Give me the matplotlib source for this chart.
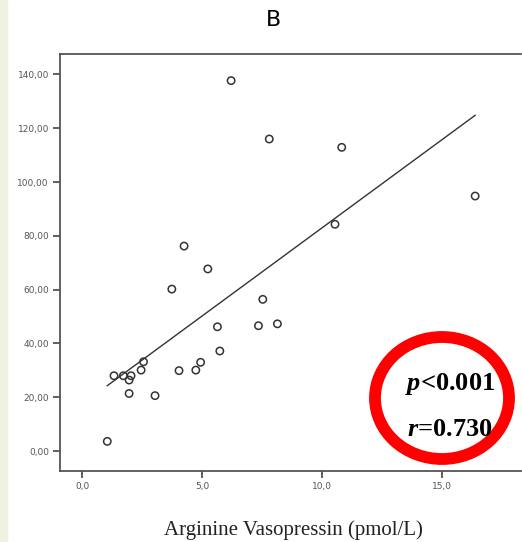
import numpy as np
import matplotlib.pyplot as plt
from matplotlib.patches import Ellipse, Rectangle

plt.rcParams['mathtext.fontset'] = 'custom'
plt.rcParams['mathtext.it'] = 'Liberation Serif:italic:bold'
plt.rcParams['mathtext.rm'] = 'Liberation Serif:bold'

# Data
avp = [6.21, 7.80, 10.82, 16.38, 10.54, 4.25, 5.24, 3.74, 7.53, 5.64,
       7.35, 8.14, 5.74, 4.94, 4.74, 4.04, 2.56, 2.46, 1.33, 1.72,
       2.04, 1.96, 1.96, 3.04, 1.05]
yvals = [137.7, 116.0, 112.9, 94.8, 84.3, 76.2, 67.7, 60.2, 56.4, 46.2,
         46.6, 47.3, 37.2, 33.0, 30.1, 29.9, 33.2, 30.1, 28.0, 28.0,
         28.0, 26.4, 21.4, 20.6, 3.6]
yticks = [0, 20, 40, 60, 80, 100, 120, 140]
xticks = [0, 5, 10, 15]
p_text = r'$\it{p}$<0.001'
r_text = r'$\it{r}$=0.730'

x = np.array(avp)
y = np.array(yvals)

fig = plt.figure(figsize=(5.22, 5.42), dpi=100)
# light green strip at the left edge
fig.patches.append(Rectangle((0, 0), 7 / 522, 1, transform=fig.transFigure,
                             color='#eef2e0', zorder=0))

ax = fig.add_axes([60 / 522, 1 - 470.7 / 542, 461 / 522, (470.7 - 54) / 542])
ax.scatter(x, y, s=28, facecolors='none', edgecolors='#333333', linewidths=1.1, zorder=3)

# least squares line over the data range
slope, intercept = np.polyfit(x, y, 1)
xs = np.array([x.min(), x.max()])
ax.plot(xs, slope * xs + intercept, color='#333333', lw=1.0)

ax.set_xlim(-0.92, 18.29)
ax.set_ylim(-7.3, 147.6)
ax.set_yticks(yticks)
ax.set_yticklabels([f'{v:.2f}'.replace('.', ',') for v in yticks])
ax.set_xticks(xticks)
ax.set_xticklabels([f'{v:.1f}'.replace('.', ',') for v in xticks])
ax.tick_params(direction='out', length=5, width=1.2, color='#444444',
               labelsize=6.5, labelcolor='#555555', pad=3)
for s in ['left', 'bottom', 'top']:
    ax.spines[s].set_color('#555555')
    ax.spines[s].set_linewidth(1.3)
ax.spines['right'].set_visible(False)

fig.text(293 / 522, 1 - 535 / 542, 'Arginine Vasopressin (pmol/L)',
         family='Liberation Serif', fontsize=15, color='#222222',
         ha='center', va='baseline')
fig.text(273 / 522, 1 - 20 / 542, 'B', ha='center', va='center', fontsize=16)

# red highlight ring with stats
ax.add_patch(Ellipse((442, 542 - 398), 134, 122, transform=None,
                     fill=False, edgecolor='#ff0000', lw=8.5, zorder=5))
fig.text(450 / 522, 1 - 384 / 542, p_text, ha='center', va='center',
         family='Liberation Serif', fontsize=19, fontweight='bold')
fig.text(450 / 522, 1 - 430 / 542, r_text, ha='center', va='center',
         family='Liberation Serif', fontsize=19, fontweight='bold')

fig.savefig('out.png', dpi=100)
